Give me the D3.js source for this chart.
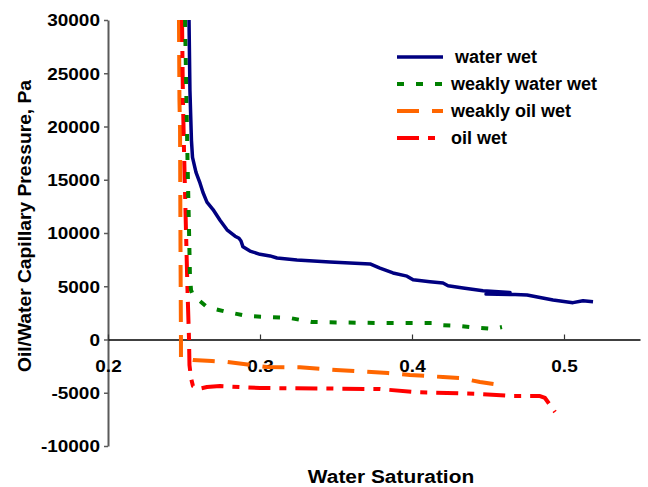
<!DOCTYPE html>
<html>
<head>
<meta charset="utf-8">
<script src="https://cdn.jsdelivr.net/npm/d3@7"></script>
<style>
  body { margin: 0; background: #fff; }
  text { font-family: "Liberation Sans", Arial, sans-serif; font-weight: bold; fill: #000; }
</style>
</head>
<body>
<script>
//series data: [water saturation, capillary pressure in Pa]
var waterWet = [
  [0.2533, 30000], [0.2539, 23400], [0.2549, 18700], [0.2556, 17100], [0.2579, 15700],
  [0.2605, 14700], [0.2625, 13800], [0.2651, 12900], [0.2691, 12200], [0.2737, 11200],
  [0.2783, 10300], [0.2836, 9700], [0.2862, 9500], [0.2875, 9250], [0.2888, 8700],
  [0.2934, 8300], [0.3000, 8000], [0.3066, 7850], [0.3112, 7650], [0.3243, 7470],
  [0.3460, 7280], [0.3724, 7100], [0.3789, 6700], [0.3875, 6250], [0.3967, 5950],
  [0.4007, 5600], [0.4118, 5430], [0.4204, 5300], [0.4237, 5050], [0.4336, 4840],
  [0.4467, 4580], [0.4645, 4410], [0.4487, 4270], [0.4678, 4220], [0.4757, 4180],
  [0.4842, 3940], [0.4928, 3710], [0.5059, 3460], [0.5125, 3640], [0.5191, 3550]
];
var weaklyWaterWet = [
  [0.2507, 30000], [0.2516, 22500], [0.2523, 16900], [0.2533, 10280], [0.2539, 6060],
  [0.2546, 4650], [0.2559, 4180], [0.2572, 3990], [0.2651, 3050], [0.2783, 2580],
  [0.2914, 2210], [0.3046, 2110], [0.3197, 2020], [0.3342, 1640], [0.3790, 1550],
  [0.4007, 1550], [0.4138, 1550], [0.4184, 1360], [0.4316, 1270], [0.4447, 1080],
  [0.4533, 990], [0.4592, 1170]
];
var weaklyOilWet = [
  [0.2467, 30000], [0.2470, 22500], [0.2474, 19700], [0.2477, 8400], [0.2480, -50],
  [0.2480, -1740], [0.2559, -1920], [0.2684, -2020], [0.2783, -2110], [0.3046, -2580],
  [0.3263, -2610], [0.3500, -2860], [0.3842, -3150], [0.3987, -3330], [0.4204, -3520],
  [0.4316, -3620], [0.4447, -3990], [0.4579, -4270]
];
var oilWet = [
  [0.2487, 30000], [0.2493, 22500], [0.2500, 17800], [0.2513, 10280], [0.2523, 4650],
  [0.2533, 50], [0.2536, -2390], [0.2546, -3620], [0.2559, -4370], [0.2592, -4650],
  [0.2651, -4460], [0.2737, -4370], [0.3000, -4550], [0.3789, -4650], [0.4007, -4930],
  [0.4230, -5020], [0.4447, -5120], [0.4664, -5310], [0.4842, -5310], [0.4875, -5490],
  [0.4941, -6810]
];

var seriesNames = ["water wet", "weakly water wet", "weakly oil wet", "oil wet"];
var xTicks = [0.2, 0.3, 0.4, 0.5];
var yTicks = [-10000, -5000, 0, 5000, 10000, 15000, 20000, 25000, 30000];

//canvas
var width = 648, height = 487;
var svg = d3.select("body").append("svg")
  .attr("width", width)
  .attr("height", height);

var xScale = d3.scaleLinear().domain([0.2, 0.55]).range([108, 640]);
var yScale = d3.scaleLinear().domain([-10000, 30000]).range([446, 20]);

//line styles per series, in the order of seriesNames
var styles = [
  {data: waterWet, color: "#000080", width: 3.5, dash: null},
  {data: weaklyWaterWet, color: "#008000", width: 4, dash: "7,12"},
  {data: weaklyOilWet, color: "#FF6600", width: 4, dash: "22,13"},
  {data: oilWet, color: "#FF0000", width: 4, dash: "22,9,7,9"}
];

//y axis, plain hyphen for negatives
var yAxis = svg.append("g")
  .attr("transform", "translate(108,0)")
  .call(d3.axisLeft(yScale).tickValues(yTicks)
    .tickFormat(function(d) { return String(d); })
    .tickSize(4).tickSizeOuter(0));
yAxis.select(".domain").attr("stroke", "#5a5a5a").attr("stroke-width", 2);
yAxis.selectAll(".tick line").attr("stroke", "#5a5a5a").attr("stroke-width", 1.5);
yAxis.selectAll(".tick text")
  .attr("x", -7)
  .attr("dy", "0.36em")
  .attr("transform", "scale(1.15,1)")
  .style("font-size", "16.5px");

//x axis sits on Pc = 0, ticks point up, labels further down
var xAxis = svg.append("g")
  .attr("transform", "translate(0," + yScale(0) + ")")
  .call(d3.axisBottom(xScale).tickValues(xTicks).tickFormat(d3.format(".1f")).tickSize(-5).tickSizeOuter(0));
xAxis.select(".domain").attr("stroke", "#000").attr("stroke-width", 1.5);
xAxis.selectAll(".tick line").attr("stroke", "#333").attr("stroke-width", 1.2);
xAxis.selectAll(".tick text")
  .attr("y", 32.5)
  .attr("dy", null)
  .attr("transform", "scale(1.15,1)")
  .style("font-size", "16.5px");
xAxis.selectAll("text").attr("fill", "#000");
yAxis.selectAll("text").attr("fill", "#000");

//curves
var line = d3.line()
  .x(function(d) { return xScale(d[0]); })
  .y(function(d) { return yScale(d[1]); });

var drawOrder = [2, 3, 1, 0];
drawOrder.forEach(function(i) {
  var s = styles[i];
  svg.append("path")
    .datum(s.data)
    .attr("d", line)
    .attr("fill", "none")
    .attr("stroke", s.color)
    .attr("stroke-width", s.width)
    .attr("stroke-dasharray", s.dash)
    .attr("stroke-linejoin", "round");
});

//axis titles
svg.append("text")
  .attr("transform", "translate(391,483) scale(1.13,1)")
  .attr("text-anchor", "middle")
  .style("font-size", "18.5px")
  .text("Water Saturation");

svg.append("text")
  .attr("transform", "translate(31,226) rotate(-90) scale(1.1,1)")
  .attr("text-anchor", "middle")
  .style("font-size", "17.5px")
  .text("Oil/Water Capillary Pressure, Pa");

//legend
var legend = svg.selectAll(".legend")
  .data(styles)
  .enter().append("g")
    .attr("class", "legend")
    .attr("transform", function(d, i) {
      return "translate(397," + (57 + i*27) + ")";
    });

legend.append("line")
  .attr("x1", 0)
  .attr("x2", 46)
  .attr("stroke", function(d) { return d.color; })
  .attr("stroke-width", function(d) { return d.width; })
  .attr("stroke-dasharray", function(d) { return d.dash; });

legend.append("text")
  .attr("x", function(d, i) { return i === 0 ? 58 : 54; })
  .attr("y", 6)
  .style("font-size", "18px")
  .text(function(d, i) { return seriesNames[i]; });
</script>
</body>
</html>
